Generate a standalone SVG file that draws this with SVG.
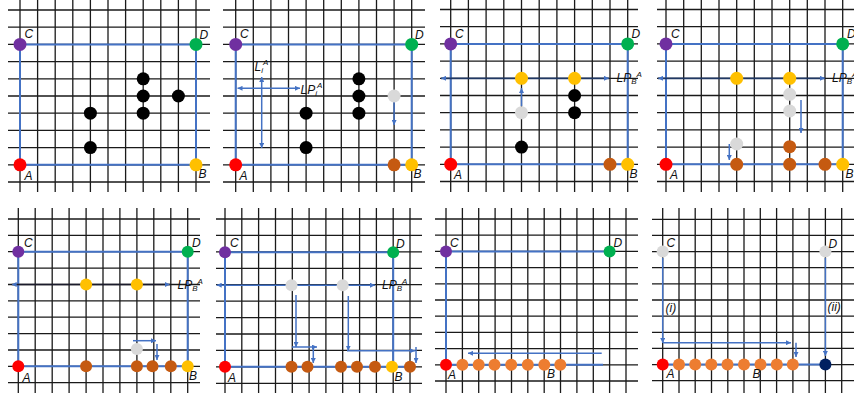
<svg xmlns="http://www.w3.org/2000/svg" width="854" height="397" viewBox="0 0 854 397">
<defs>
<marker id="ah" viewBox="0 0 6 6" markerWidth="5" markerHeight="5" refX="6" refY="3" orient="auto-start-reverse" markerUnits="userSpaceOnUse"><path d="M0,0L6,3L0,6z" fill="#4472C4"/></marker>
</defs>
<style>
.grid{stroke:#1a1a1a;stroke-width:1.3;fill:none}
.edge{stroke:#4472C4;stroke-width:2;fill:none}
.arr{stroke:#4472C4;stroke-width:1.5;fill:none;marker-end:url(#ah)}
.dbl{stroke:#4472C4;stroke-width:1.5;fill:none;marker-end:url(#ah);marker-start:url(#ah)}
.lbl{font-family:"Liberation Sans",Arial,sans-serif;font-style:italic;font-size:12px;fill:#111}
.sm{font-size:8px}
.pu{fill:#7030A0}.gr{fill:#00B050}.rd{fill:#FF0000}.ye{fill:#FFC000}.br{fill:#C55A11}.gy{fill:#D9D9D9}.bk{fill:#000}.or{fill:#ED7D31}.nv{fill:#002060}
</style>
<rect width="854" height="397" fill="#fff"/>
<g id="grids">
<path class="grid" d="M20,0V192M37.6,0V192M55.2,0V192M72.8,0V192M90.4,0V192M108,0V192M125.6,0V192M143.2,0V192M160.8,0V192M178.4,0V192M196,0V192M8,10H210M8,27.2H210M8,44.4H210M8,61.6H210M8,78.8H210M8,96H210M8,113.2H210M8,130.4H210M8,147.6H210M8,164.8H210M8,182H210"/>
<path class="grid" d="M235.7,0V192M253.3,0V192M270.9,0V192M288.5,0V192M306.1,0V192M323.7,0V192M341.3,0V192M358.9,0V192M376.5,0V192M394.1,0V192M411.7,0V192M223,10H425M223,27.2H425M223,44.4H425M223,61.6H425M223,78.8H425M223,96H425M223,113.2H425M223,130.4H425M223,147.6H425M223,164.8H425M223,182H425"/>
<path class="grid" d="M450.7,0V192M468.4,0V192M486.1,0V192M503.8,0V192M521.5,0V192M539.2,0V192M556.9,0V192M574.6,0V192M592.3,0V192M610,0V192M627.7,0V192M440,9.5H638M440,26.7H638M440,43.9H638M440,61.1H638M440,78.3H638M440,95.5H638M440,112.7H638M440,129.9H638M440,147.1H638M440,164.3H638M440,181.5H638"/>
<path class="grid" d="M666,0V192M683.7,0V192M701.3,0V192M719,0V192M736.7,0V192M754.3,0V192M772,0V192M789.7,0V192M807.3,0V192M825,0V192M842.7,0V192M657,9.5H854M657,26.7H854M657,43.9H854M657,61.1H854M657,78.3H854M657,95.5H854M657,112.7H854M657,129.9H854M657,147.1H854M657,164.3H854M657,181.5H854"/>
<path class="grid" d="M18.3,208V393M35.2,208V393M52.2,208V393M69.1,208V393M86.1,208V393M103,208V393M119.9,208V393M136.9,208V393M153.8,208V393M170.8,208V393M187.7,208V393M8,219H200M8,235.4H200M8,251.7H200M8,268.1H200M8,284.5H200M8,300.9H200M8,317.2H200M8,333.6H200M8,350H200M8,366.3H200M8,382.7H200"/>
<path class="grid" d="M225,208V393M241.8,208V393M258.6,208V393M275.5,208V393M292.3,208V393M309.1,208V393M325.9,208V393M342.7,208V393M359.6,208V393M376.4,208V393M393.2,208V393M410,208V393M216,219H422M216,235.4H422M216,251.9H422M216,268.3H422M216,284.7H422M216,301.2H422M216,317.6H422M216,334H422M216,350.4H422M216,366.9H422M216,383.3H422"/>
<path class="grid" d="M446,208V393M462.4,208V393M478.7,208V393M495.1,208V393M511.5,208V393M527.8,208V393M544.2,208V393M560.5,208V393M576.9,208V393M593.3,208V393M609.6,208V393M626,208V393M435,219H638M435,235.2H638M435,251.4H638M435,267.6H638M435,283.8H638M435,300H638M435,316.2H638M435,332.4H638M435,348.6H638M435,364.8H638M435,381H638"/>
<path class="grid" d="M662.7,208V393M679,208V393M695.2,208V393M711.5,208V393M727.8,208V393M744,208V393M760.3,208V393M776.6,208V393M792.9,208V393M809.1,208V393M825.4,208V393M841.7,208V393M652,219.3H854M652,235.4H854M652,251.6H854M652,267.7H854M652,283.9H854M652,300H854M652,316.1H854M652,332.3H854M652,348.4H854M652,364.6H854M652,380.7H854"/>
</g>
<g id="connectors">
<path class="edge" d="M20,44.4H196V164.8H20z"/>
<path class="edge" d="M235.7,44.4H411.7V164.8H235.7z"/>
<path class="edge" d="M450.7,43.9H627.7V164.3H450.7z"/>
<path class="edge" d="M666,43.9H842.7V164.3H666z"/>
<path class="edge" d="M18.3,251.7H187.7V366.3H18.3z"/>
<path class="edge" d="M225,252.3H393.2V366.7H225zM393.2,366.7H410"/>
<path class="edge" d="M603,364.8H446V251.4H609.6"/>
<path class="edge" d="M662.7,364.6H825.4"/>
<path class="dbl" d="M261.7,77V148"/>
<path class="dbl" d="M237.5,88.3H300"/>
<path class="arr" d="M394.1,102V125"/>
<path d="M441,78.3H609" stroke="#203864" stroke-width="1.8" fill="none" marker-start="url(#ah)" marker-end="url(#ah)"/>
<path class="arr" d="M521.5,106V88"/>
<path d="M658,78.3H825" stroke="#203864" stroke-width="1.8" fill="none" marker-start="url(#ah)" marker-end="url(#ah)"/>
<path class="arr" d="M801,100V133"/>
<path class="arr" d="M729.3,144V160"/>
<path d="M11.7,284.5H170" stroke="#1c1c2c" stroke-width="1.6" fill="none" marker-start="url(#ah)" marker-end="url(#ah)"/>
<path class="arr" d="M133,340.7H156"/>
<path class="arr" d="M157,344V360"/>
<path class="dbl" d="M216.7,285.2H375"/>
<path class="arr" d="M296,295V347"/>
<path class="arr" d="M292,347H317"/>
<path class="arr" d="M313.3,347V363"/>
<path class="arr" d="M348.3,296V350.7"/>
<path class="arr" d="M347,350.7H415"/>
<path class="arr" d="M416,347V363"/>
<path class="arr" d="M601.7,353.3H468"/>
<path class="arr" d="M662.7,258V343"/>
<path class="arr" d="M663,342.7H791"/>
<path class="arr" d="M796,342.7V357"/>
<path class="arr" d="M825.4,258V356"/>
</g>
<g id="panel1">
<circle class="pu" cx="20" cy="44.4" r="6.5"/><circle class="gr" cx="196" cy="44.4" r="6.5"/><circle class="rd" cx="20" cy="164.8" r="6.5"/><circle class="ye" cx="196" cy="164.8" r="6.5"/>
<circle class="bk" cx="143.2" cy="78.8" r="6.5"/><circle class="bk" cx="143.2" cy="96" r="6.5"/><circle class="bk" cx="143.2" cy="113.2" r="6.5"/><circle class="bk" cx="178.4" cy="96" r="6.5"/><circle class="bk" cx="90.4" cy="113.2" r="6.5"/><circle class="bk" cx="90.4" cy="147.6" r="6.5"/>
<text class="lbl" x="24.5" y="38">C</text><text class="lbl" x="199.5" y="38.5">D</text><text class="lbl" x="24.5" y="180">A</text><text class="lbl" x="198.5" y="178">B</text>
</g>
<g id="panel2">
<circle class="pu" cx="235.7" cy="44.4" r="6.5"/><circle class="gr" cx="411.7" cy="44.4" r="6.5"/><circle class="rd" cx="235.7" cy="164.8" r="6.5"/><circle class="br" cx="394.1" cy="164.8" r="6.5"/><circle class="ye" cx="411.7" cy="164.8" r="6.5"/>
<circle class="bk" cx="358.9" cy="78.8" r="6.5"/><circle class="bk" cx="358.9" cy="96" r="6.5"/><circle class="bk" cx="358.9" cy="113.2" r="6.5"/><circle class="bk" cx="306.1" cy="113.2" r="6.5"/><circle class="bk" cx="306.1" cy="147.6" r="6.5"/><circle class="gy" cx="394.1" cy="96" r="6.5"/>
<text class="lbl" x="240" y="38">C</text><text class="lbl" x="415" y="38.5">D</text><text class="lbl" x="239.5" y="180">A</text><text class="lbl" x="413.5" y="178">B</text>
<text class="lbl" x="254.5" y="71">L<tspan class="sm" dy="2">i</tspan><tspan class="sm" dy="-8">A</tspan></text>
<text class="lbl" x="300.5" y="94">LP<tspan class="sm" dy="2">i</tspan><tspan class="sm" dy="-8">A</tspan></text>
</g>
<g id="panel3">
<circle class="pu" cx="450.7" cy="43.9" r="6.5"/><circle class="gr" cx="627.7" cy="43.9" r="6.5"/><circle class="rd" cx="450.7" cy="164.3" r="6.5"/><circle class="br" cx="610" cy="164.3" r="6.5"/><circle class="ye" cx="627.7" cy="164.3" r="6.5"/>
<circle class="ye" cx="521.5" cy="78.3" r="6.5"/><circle class="ye" cx="574.6" cy="78.3" r="6.5"/><circle class="bk" cx="574.6" cy="95.5" r="6.5"/><circle class="bk" cx="574.6" cy="112.7" r="6.5"/><circle class="bk" cx="521.5" cy="147.1" r="6.5"/><circle class="gy" cx="521.5" cy="112.7" r="6.5"/>
<text class="lbl" x="455" y="37.5">C</text><text class="lbl" x="631.5" y="38">D</text><text class="lbl" x="454" y="179">A</text><text class="lbl" x="629.5" y="178">B</text>
<text class="lbl" x="616.5" y="82">LP<tspan class="sm" dy="2">B</tspan><tspan class="sm" dy="-7">A</tspan></text>
</g>
<g id="panel4">
<circle class="pu" cx="666" cy="43.9" r="6.5"/><circle class="gr" cx="842.7" cy="43.9" r="6.5"/><circle class="rd" cx="666" cy="164.3" r="6.5"/><circle class="ye" cx="842.7" cy="164.3" r="6.5"/>
<circle class="ye" cx="736.7" cy="78.3" r="6.5"/><circle class="ye" cx="789.7" cy="78.3" r="6.5"/><circle class="gy" cx="789.7" cy="94.3" r="6.5"/><circle class="gy" cx="789.7" cy="111" r="6.5"/><circle class="gy" cx="736.7" cy="144" r="6.5"/>
<circle class="br" cx="789.7" cy="146.7" r="6.5"/><circle class="br" cx="789.7" cy="164.3" r="6.5"/><circle class="br" cx="736.7" cy="164.3" r="6.5"/><circle class="br" cx="825" cy="164.3" r="6.5"/>
<text class="lbl" x="671" y="37.5">C</text><text class="lbl" x="847" y="37.5">D</text><text class="lbl" x="670" y="178.5">A</text><text class="lbl" x="845.5" y="178">B</text>
<text class="lbl" x="832" y="82">LP<tspan class="sm" dy="2">B</tspan><tspan class="sm" dy="-7">A</tspan></text>
</g>
<g id="panel5">
<circle class="pu" cx="18.3" cy="251.7" r="6"/><circle class="gr" cx="187.7" cy="251.7" r="6"/><circle class="rd" cx="18.3" cy="366.3" r="6"/><circle class="ye" cx="187.7" cy="366.3" r="6"/>
<circle class="ye" cx="86.1" cy="284.5" r="6"/><circle class="ye" cx="136.9" cy="284.5" r="6"/><circle class="gy" cx="136.9" cy="349" r="6"/>
<circle class="br" cx="86.1" cy="366.3" r="6"/><circle class="br" cx="136.9" cy="366.3" r="6"/><circle class="br" cx="152.5" cy="366.3" r="6"/><circle class="br" cx="170.8" cy="366.3" r="6"/>
<text class="lbl" x="24" y="247">C</text><text class="lbl" x="192" y="247">D</text><text class="lbl" x="22.5" y="381.5">A</text><text class="lbl" x="189" y="380">B</text>
<text class="lbl" x="177.5" y="289">LP<tspan class="sm" dy="2">B</tspan><tspan class="sm" dy="-7">A</tspan></text>
</g>
<g id="panel6">
<circle class="pu" cx="225" cy="252.3" r="6"/><circle class="gr" cx="393.2" cy="252.3" r="6"/><circle class="rd" cx="225" cy="366.7" r="6"/>
<circle class="gy" cx="291.5" cy="285.2" r="6"/><circle class="gy" cx="342.7" cy="285.2" r="6"/>
<circle class="br" cx="291.5" cy="366.7" r="6"/><circle class="br" cx="307.5" cy="366.7" r="6"/><circle class="br" cx="341" cy="366.7" r="6"/><circle class="br" cx="357" cy="366.7" r="6"/><circle class="br" cx="375" cy="366.7" r="6"/><circle class="ye" cx="392" cy="366.7" r="6"/><circle class="br" cx="410" cy="366.7" r="6"/>
<text class="lbl" x="230" y="247">C</text><text class="lbl" x="396" y="247.5">D</text><text class="lbl" x="228" y="381.5">A</text><text class="lbl" x="394.5" y="381">B</text>
<text class="lbl" x="382" y="289">LP<tspan class="sm" dy="2">B</tspan><tspan class="sm" dy="-7">A</tspan></text>
</g>
<g id="panel7">
<circle class="pu" cx="446" cy="251.4" r="6"/><circle class="gr" cx="609.6" cy="251.4" r="6"/><circle class="rd" cx="446" cy="364.8" r="6"/>
<circle class="or" cx="462.4" cy="364.8" r="6"/><circle class="or" cx="478.7" cy="364.8" r="6"/><circle class="or" cx="494.5" cy="364.8" r="6"/><circle class="or" cx="511.2" cy="364.8" r="6"/><circle class="or" cx="527.8" cy="364.8" r="6"/><circle class="or" cx="544.3" cy="364.8" r="6"/><circle class="or" cx="560.3" cy="364.8" r="6"/>
<text class="lbl" x="450" y="247">C</text><text class="lbl" x="613.5" y="247">D</text><text class="lbl" x="448" y="378.5">A</text><text class="lbl" x="547" y="378">B</text>
</g>
<g id="panel8">
<circle class="gy" cx="662.7" cy="251.6" r="6"/><circle class="gy" cx="825.4" cy="251.6" r="6"/><circle class="rd" cx="662.7" cy="364.6" r="6"/>
<circle class="or" cx="679" cy="364.6" r="6"/><circle class="or" cx="695.2" cy="364.6" r="6"/><circle class="or" cx="711.3" cy="364.6" r="6"/><circle class="or" cx="727.5" cy="364.6" r="6"/><circle class="or" cx="744" cy="364.6" r="6"/><circle class="or" cx="760.5" cy="364.6" r="6"/><circle class="or" cx="776.8" cy="364.6" r="6"/><circle class="or" cx="792.8" cy="364.6" r="6"/><circle class="nv" cx="825.4" cy="364.6" r="6"/>
<text class="lbl" x="666.5" y="247">C</text><text class="lbl" x="828.5" y="247.5">D</text><text class="lbl" x="666.5" y="378">A</text><text class="lbl" x="752.5" y="377.5">B</text>
<text class="lbl" x="665.5" y="311.5">(i)</text><text class="lbl" x="827.5" y="311">(ii)</text>
</g>
</svg>
